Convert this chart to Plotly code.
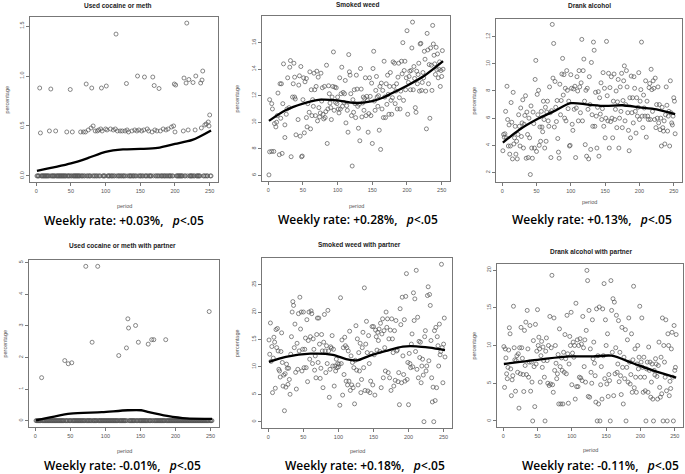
import plotly.graph_objects as go

# ---------------- DATA ----------------
# Panel 1: Used cocaine or meth (non-zero observations; every other period is 0)
coc_period = [6, 19, 28, 44, 52, 64, 68, 71, 75, 79, 82, 85, 88, 90, 93, 95, 100, 102, 107, 111,
              114, 117, 121, 124, 128, 131, 133, 138, 142, 145, 148, 152, 155, 160, 162, 167, 171,
              174, 179, 183, 187, 190, 195, 198, 200, 212, 219, 229, 238, 243, 245, 248, 249, 250,
              5, 21, 49, 72, 80, 94, 101, 130, 146, 156, 168, 170, 177, 199, 201, 213, 216, 220,
              226, 230, 237, 239, 240, 115, 217]
coc_pct = [0.43, 0.45, 0.45, 0.44, 0.44, 0.44, 0.44, 0.44, 0.46, 0.48, 0.50, 0.45, 0.45, 0.46, 0.47,
           0.45, 0.47, 0.46, 0.47, 0.46, 0.47, 0.45, 0.45, 0.45, 0.45, 0.46, 0.44, 0.45, 0.46, 0.45,
           0.46, 0.45, 0.46, 0.47, 0.45, 0.44, 0.46, 0.45, 0.45, 0.47, 0.46, 0.47, 0.49, 0.50, 0.44,
           0.45, 0.46, 0.46, 0.48, 0.51, 0.52, 0.54, 0.50, 0.61,
           0.88, 0.87, 0.865, 0.92, 0.88, 0.88, 0.90, 0.925, 1.0, 0.99, 0.99, 0.905, 0.875, 0.92,
           0.91, 0.98, 0.93, 0.965, 0.935, 1.0, 0.93, 0.96, 1.05, 1.42, 1.53]
coc_curve_period = [1, 25, 50, 75, 100, 125, 150, 175, 200, 225, 252]
coc_curve_pct = [0.05, 0.085, 0.125, 0.18, 0.24, 0.265, 0.27, 0.28, 0.32, 0.36, 0.455]

# Panel 2: Smoked weed
weed_period_early = [1, 2, 5, 8, 2, 5, 6, 9, 11, 12, 13, 14, 17, 16, 18, 19, 20, 21, 22, 24,
                     24, 26, 27, 28, 30, 31, 32, 33, 35, 36, 37, 38, 38, 39, 40, 43, 44, 45, 46, 47,
                     48, 49, 50, 51, 52, 53, 55, 55, 56, 57, 59, 60, 61, 62, 63, 64, 65, 66, 67, 68,
                     69, 70, 71, 72, 73, 74, 75, 76, 77, 78, 79, 80, 81, 82, 83, 84, 85]
weed_pct_early = [6.03, 7.77, 7.8, 7.8, 11.7, 11.4, 11.0, 9.9, 9.65, 10.0, 10.5, 12.2, 12.9, 7.55,
                  10.3, 12.9, 7.65, 11.4, 14.4, 9.8, 8.85, 10.6, 11.0, 13.35, 11.1, 14.15, 14.65,
                  7.4, 11.9, 12.9, 14.45, 11.9, 13.4, 11.75, 9.05, 10.2, 12.8, 13.5, 8.95, 14.2,
                  7.4, 7.45, 11.7, 13.35, 9.2, 13.05, 13.3, 10.35, 9.65, 11.4, 10.75, 13.8, 9.5,
                  12.45, 10.5, 11.7, 11.2, 13.7, 12.45, 10.5, 12.7, 13.85, 10.1, 13.4, 11.1, 10.4,
                  10.7, 13.7, 11.6, 12.6, 10.6, 10.25, 12.7, 10.35, 10.8, 14.3, 8.4]
weed_late_start = 86
weed_pct_late = [11.0, 12.75, 12.15, 11.45, 11.1, 10.2, 11.9, 12.7, 15.3, 10.9, 12.65, 11.5, 12.6,
                 11.4, 11.9, 11.0, 10.7,
                 13.35, 11.0, 12.15, 14.15, 11.2, 12.25, 11.5, 12.15, 13.15, 9.95, 11.25, 10.9,
                 9.25, 15.1, 13.8, 13.55, 12.15, 10.5, 6.7, 11.7, 10.75, 12.45, 11.4, 10.35, 13.55,
                 12.5, 11.2, 9.55, 11.35, 8.6, 14.05, 12.5, 10.4, 11.45, 11.9, 10.9, 11.8, 13.35,
                 10.5, 11.95, 11.65, 9.25, 10.65, 13.35, 11.95, 10.5, 12.95, 8.4, 14.05, 15.35,
                 11.6, 10.9, 12.4, 13.45, 11.9, 11.2, 12.0,
                 9.4, 12.7, 7.95, 12.95, 11.0, 12.4, 10.35, 14.6, 11.9, 10.35,
                 12.9, 11.35, 13.55, 12.1, 10.6, 12.7, 13.75, 11.65, 10.6, 11.85,
                 14.55, 12.7, 14.45, 11.4, 12.35, 12.9, 11.0, 13.4, 14.45, 11.85,
                 11.0, 12.35, 14.6, 13.65, 16.0, 11.65, 13.9, 14.6, 12.45, 13.35,
                 16.9, 10.6, 13.0, 13.45, 13.85, 12.45, 13.9, 15.6, 17.55, 12.45,
                 14.2, 13.3, 11.1, 10.75, 13.85, 12.9, 13.6, 14.45, 12.35, 15.9,
                 15.95, 12.4, 13.0, 13.75, 13.35, 15.35, 14.75, 12.35, 9.5, 16.7,
                 15.45, 12.9, 14.35, 10.3, 15.6, 14.3, 12.4, 17.3, 15.9, 15.05,
                 14.4, 13.6, 15.65, 13.95, 15.15, 13.35, 14.0, 14.55, 12.7, 13.9,
                 13.45, 15.4, 14.0]
weed_curve_period = [1, 25, 50, 75, 100, 125, 150, 165, 175, 200, 225, 252]
weed_curve_pct = [10.1, 10.9, 11.4, 11.7, 11.65, 11.45, 11.6, 11.85, 12.1, 12.75, 13.5, 14.6]

# Panel 3: Drank alcohol (periods 1..252)
alc_pct = [3.6, 4.8, 4.6, 4.85, 6.5, 4.55, 8.35, 5.9, 3.95, 5.5, 3.35, 3.95,
           7.15, 5.7, 3.0, 7.9, 4.1, 4.55, 5.4, 3.35, 4.3, 3.0, 4.8, 6.25,
           5.4, 3.95, 6.75, 4.65, 5.65, 7.35, 3.8, 5.55, 6.2, 7.65, 3.05, 6.45,
           4.8, 3.1, 6.0, 4.55, 1.85, 6.9, 3.8, 3.05, 6.45, 5.6, 3.8, 8.85,
           10.25, 3.55, 7.75, 6.25, 8.05, 4.0, 5.35, 4.3, 6.5, 5.35, 5.0, 7.25,
           5.9, 3.8, 6.8, 4.3, 6.45, 7.25, 5.8, 5.4, 8.3, 6.4, 3.1, 6.55,
           12.9, 8.95, 11.5, 5.35, 8.7, 6.8, 5.75, 7.3, 4.5, 3.5, 3.05, 8.5,
           6.25, 7.3, 9.25, 10.4, 7.7, 9.2, 6.0, 8.2, 5.8, 9.5, 8.05, 6.7,
           7.25, 3.95, 4.0, 9.2, 8.2, 5.55, 5.1, 8.15, 6.65, 8.35, 3.1, 6.75,
           9.05, 8.0, 5.8, 9.5, 8.3, 6.4, 8.6, 11.8, 5.8, 9.5, 10.35, 7.25,
           4.05, 8.05, 3.2, 8.2, 6.65, 3.0, 9.05, 7.0, 3.7, 10.1, 6.25, 5.4,
           11.6, 11.0, 5.4, 7.9, 6.15, 3.8, 6.8, 7.95, 3.2, 7.5, 6.3, 8.6,
           5.9, 6.7, 9.35, 5.4, 8.2, 4.55, 6.0, 11.65, 7.65, 5.8, 9.3, 3.8,
           8.25, 5.75, 9.05, 6.0, 4.55, 7.25, 9.25, 5.9, 6.65, 8.0, 5.3, 7.2,
           8.85, 3.8, 6.0, 8.3, 6.5, 9.3, 5.3, 7.3, 8.75, 9.85, 5.8, 7.0,
           9.5, 8.3, 6.4, 5.1, 3.6, 7.5, 4.55, 9.1, 6.4, 7.5, 5.65, 9.05,
           8.2, 6.5, 4.9, 7.5, 6.15, 6.8, 9.35, 5.9, 7.25, 8.1, 11.6, 6.15,
           5.3, 7.7, 6.75, 6.15, 8.75, 4.6, 7.25, 6.15, 5.9, 8.25, 8.55, 5.9,
           9.6, 8.1, 6.5, 8.75, 8.2, 5.9, 8.95, 5.3, 7.0, 6.0, 8.3, 5.65,
           7.0, 5.15, 6.0, 3.95, 6.8, 5.3, 5.05, 5.8, 4.1, 6.25, 8.3, 6.95,
           5.05, 6.15, 6.5, 3.95, 8.75, 6.4, 5.65, 5.5, 6.15, 7.5, 7.25, 4.85]
alc_curve_period = [1, 25, 50, 75, 100, 125, 150, 175, 200, 225, 252]
alc_curve_pct = [4.2, 5.15, 5.9, 6.5, 7.1, 7.0, 6.9, 6.95, 6.8, 6.65, 6.3]

# Panel 4: Used cocaine or meth with partner (non-zero observations; others are 0)
cocp_period = [9, 42, 47, 52, 72, 89, 81, 119, 130, 132, 133, 143, 147, 161, 166, 169, 186, 248]
cocp_pct = [1.36, 1.9, 1.8, 1.83, 4.88, 4.88, 2.48, 2.06, 2.3, 3.22, 2.93, 3.01, 2.48, 2.42,
            2.56, 2.56, 2.56, 3.45]
cocp_curve_period = [1, 25, 50, 95, 132, 151, 162, 188, 216, 252]
cocp_curve_pct = [0.01, 0.12, 0.22, 0.27, 0.33, 0.33, 0.27, 0.15, 0.07, 0.06]

# Panel 5: Smoked weed with partner (periods 1..252)
weedp_pct = [14.9, 12.3, 18.0, 11.0, 13.7, 5.3, 11.6, 15.4, 14.5, 6.1, 16.8, 13.5,
             17.0, 12.9, 9.55, 9.25, 8.15, 12.8, 16.2, 10.8, 6.5, 8.5, 2.0, 8.75,
             6.3, 10.5, 9.75, 6.8, 9.75, 7.7, 5.0, 12.3, 15.5, 20.0, 21.9, 21.2,
             13.5, 17.8, 9.0, 5.95, 14.3, 9.55, 19.7, 12.9, 22.7, 16.9, 20.0, 9.25,
             13.2, 20.0, 9.85, 13.2, 15.25, 9.85, 18.6, 7.3, 14.8, 20.0, 11.4, 15.5,
             20.2, 19.7, 10.6, 15.1, 13.2, 9.4, 12.0, 8.0, 15.9, 18.9, 10.8, 18.9,
             14.15, 7.9, 9.75, 15.9, 12.9, 6.2, 14.5, 19.55, 12.9, 8.95, 13.85, 10.6,
             20.3, 12.9, 4.45, 9.55, 13.65, 13.4, 15.7, 10.15, 13.2, 6.5, 10.15, 9.25,
             11.4, 9.85, 10.6, 10.0, 10.5, 3.0, 22.6, 10.6, 14.9, 4.85, 13.5, 8.6,
             15.4, 13.85, 7.4, 13.5, 6.7, 12.9, 7.4, 16.5, 5.7, 12.0, 6.7, 10.8,
             6.2, 9.85, 3.25, 11.2, 17.5, 9.4, 15.1, 6.7, 12.6, 9.25, 14.3, 5.3,
             7.7, 13.5, 16.3, 9.85, 24.4, 5.7, 14.15, 18.3, 12.6, 5.6, 15.7, 10.6,
             5.3, 7.4, 12.45, 17.35, 6.7, 17.35, 12.2, 4.85, 16.7, 15.5, 13.05, 16.3,
             14.8, 16.9, 12.8, 17.95, 6.2, 16.0, 18.75, 8.0, 16.6, 13.5, 9.25, 20.0,
             17.2, 18.75, 8.95, 15.1, 8.0, 16.7, 5.7, 18.75, 15.1, 12.6, 6.5, 16.6,
             7.55, 18.45, 12.9, 13.05, 7.3, 8.95, 3.1, 20.6, 17.7, 7.1, 22.7, 12.0,
             8.6, 18.6, 7.4, 22.85, 27.0, 7.7, 10.8, 3.1, 12.45, 10.6, 9.85, 14.15,
             16.0, 10.0, 23.5, 18.45, 22.4, 12.8, 27.6, 9.55, 19.05, 8.0, 14.65, 11.7,
             14.5, 7.1, 10.15, 11.4, 8.5, 0.0, 15.5, 16.6, 9.25, 10.15, 23.0, 24.6,
             11.1, 23.2, 21.2, 14.8, 8.0, 3.6, 6.3, 0.0, 16.6, 3.85, 17.2, 6.2,
             15.5, 13.85, 10.15, 17.8, 12.2, 12.8, 28.7, 13.5, 7.1, 14.15, 18.9, 11.8]
weedp_curve_period = [1, 25, 60, 92, 111, 127, 144, 168, 192, 211, 230, 252]
weedp_curve_pct = [10.9, 11.8, 12.4, 12.2, 11.4, 11.2, 12.0, 12.9, 13.7, 13.75, 13.5, 13.05]

# Panel 6: Drank alcohol with partner (periods 1..252)
alcp_pct = [9.85, 4.45, 9.55, 8.35, 6.25, 5.6, 7.1, 9.4, 12.35, 11.55, 6.9, 3.35,
            5.45, 6.0, 15.2, 9.7, 8.1, 3.95, 8.0, 8.65, 6.45, 8.9, 1.7, 9.7,
            6.25, 12.4, 9.7, 8.3, 6.15, 3.9, 12.0, 7.35, 13.1, 6.15, 14.65, 9.55,
            5.8, 7.8, 12.65, 3.95, 7.8, 5.15, 0.0, 10.65, 7.2, 1.9, 12.8, 7.55,
            9.25, 14.75, 10.0, 11.1, 9.55, 5.15, 8.65, 10.55, 7.1, 9.8, 8.0, 5.8,
            0.0, 9.25, 11.0, 8.0, 5.0, 10.0, 4.7, 13.85, 4.9, 9.7, 19.3, 4.8,
            3.8, 13.65, 6.7, 10.0, 7.65, 5.6, 6.25, 8.8, 2.25, 12.2, 7.2, 2.25,
            8.35, 6.7, 2.25, 9.1, 6.45, 11.45, 8.25, 6.25, 14.0, 8.9, 2.35, 7.55,
            11.2, 10.0, 14.4, 4.8, 9.0, 10.45, 8.45, 10.0, 2.9, 15.6, 4.55, 10.75,
            4.55, 10.0, 5.8, 10.9, 5.7, 10.2, 5.35, 13.85, 9.7, 7.2, 10.75, 5.15,
            12.0, 19.95, 18.6, 3.25, 14.65, 3.15, 9.55, 6.45, 5.0, 13.4, 8.25, 10.45,
            7.65, 6.0, 2.5, 14.85, 0.0, 8.65, 2.25, 15.1, 0.0, 4.8, 7.2, 2.9,
            14.85, 8.65, 18.2, 5.6, 13.4, 10.0, 4.9, 11.55, 3.25, 6.15, 5.35, 0.0,
            18.6, 14.65, 9.1, 16.2, 3.35, 15.75, 6.25, 9.7, 14.0, 6.45, 7.55, 13.3,
            5.2, 9.1, 6.0, 3.5, 12.4, 7.1, 2.25, 8.45, 5.6, 12.1, 0.0, 7.1,
            10.75, 5.15, 13.65, 7.8, 4.9, 6.15, 11.55, 3.8, 8.1, 17.85, 4.4, 9.55,
            5.8, 3.8, 7.55, 10.0, 6.9, 8.45, 15.2, 5.8, 7.8, 13.65, 7.1, 3.8,
            8.45, 5.8, 4.0, 0.0, 6.9, 7.8, 3.8, 9.8, 6.7, 7.8, 3.15, 5.15,
            7.55, 2.9, 0.0, 6.7, 6.1, 8.25, 7.55, 5.9, 2.9, 7.35, 10.45, 4.45,
            3.15, 8.45, 3.6, 13.65, 0.0, 10.0, 7.8, 5.8, 13.4, 4.0, 0.0, 11.55,
            10.0, 3.35, 5.25, 4.3, 9.55, 11.75, 5.8, 0.0, 12.65, 6.7, 7.1, 11.45]
alcp_curve_period = [1, 58, 97, 131, 158, 189, 218, 252]
alcp_curve_pct = [7.55, 8.2, 8.55, 8.55, 8.65, 7.65, 6.7, 5.75]

titles = ["Used cocaine or meth", "Smoked weed", "Drank alcohol",
          "Used cocaine or meth with partner", "Smoked weed with partner",
          "Drank alcohol with partner"]
rates = ["+0.03%", "+0.28%", "+0.13%", "-0.01%", "+0.18%", "-0.11%"]
x_ticks = [0, 50, 100, 150, 200, 250]
y_ticks = [[0, 0.5, 1.0, 1.5], [6, 8, 10, 12, 14, 16], [2, 4, 6, 8, 10, 12],
           [0, 1, 2, 3, 4, 5], [0, 5, 10, 15, 20, 25], [0, 5, 10, 15, 20]]
y_ticktext = [["0.0", "0.5", "1.0", "1.5"], None, None, None, None, None]

# ---------------- BUILD SERIES ----------------
all_periods = list(range(1, 253))
coc_zero = [p for p in all_periods if p not in coc_period]
cocp_zero = [p for p in all_periods if p not in cocp_period]
weed_period = weed_period_early + list(range(weed_late_start, weed_late_start + len(weed_pct_late)))
weed_pct = weed_pct_early + weed_pct_late

scatter_data = [
    (coc_period + coc_zero, coc_pct + [0.0] * len(coc_zero)),
    (weed_period, weed_pct),
    (list(range(1, len(alc_pct) + 1)), alc_pct),
    (cocp_period + cocp_zero, cocp_pct + [0.0] * len(cocp_zero)),
    (list(range(1, len(weedp_pct) + 1)), weedp_pct),
    (list(range(1, len(alcp_pct) + 1)), alcp_pct),
]
curve_data = [
    (coc_curve_period, coc_curve_pct),
    (weed_curve_period, weed_curve_pct),
    (alc_curve_period, alc_curve_pct),
    (cocp_curve_period, cocp_curve_pct),
    (weedp_curve_period, weedp_curve_pct),
    (alcp_curve_period, alcp_curve_pct),
]

# ---------------- LAYOUT (pixel geometry) ----------------
W, H = 685, 474
boxes = [(30, 17, 218, 182), (262, 16, 450, 181), (496, 19, 682, 182),
         (29, 260, 219, 427), (262, 258, 452, 428), (497, 264, 683, 427)]
y_ranges = [[-0.061, 1.591], [5.57, 18.01], [1.3, 13.3],
            [-0.2, 5.08], [-1.15, 29.85], [-0.8, 20.8]]
x_range = [-9, 262]
title_pos = [(118, 6), (357, 4), (589, 6), (122, 246), (359, 245), (591, 252)]
rate_pos = [(124, 220), (358, 219), (592, 219), (122, 465), (365, 465), (600, 465)]
period_y = [206, 206, 202, 451, 451, 450]
perc_x = [7, 237, 473, 4, 237, 473]

fig = go.Figure()
layout = dict(width=W, height=H, margin=dict(l=0, r=0, t=0, b=0),
              paper_bgcolor="white", plot_bgcolor="white", showlegend=False)
annotations = []
GRAY = "#777777"
TICKFONT = dict(family="Liberation Sans, Arial", size=5.5, color="#555555")


def px_x(x):
    return x / W


def px_y(y):
    return 1 - y / H


for i in range(6):
    n = i + 1
    xa = "x" if n == 1 else f"x{n}"
    ya = "y" if n == 1 else f"y{n}"
    sx, sy = scatter_data[i]
    cx, cy = curve_data[i]
    fig.add_trace(go.Scatter(x=sx, y=sy, mode="markers", xaxis=xa, yaxis=ya,
                             marker=dict(symbol="circle-open", size=4, color="#555555",
                                         line=dict(width=0.7)),
                             hoverinfo="skip"))
    fig.add_trace(go.Scatter(x=cx, y=cy, mode="lines", xaxis=xa, yaxis=ya,
                             line=dict(color="black", width=2.3, shape="spline", smoothing=0.8),
                             hoverinfo="skip"))
    x0, y0, x1, y1 = boxes[i]
    xkey = "xaxis" if n == 1 else f"xaxis{n}"
    ykey = "yaxis" if n == 1 else f"yaxis{n}"
    layout[xkey] = dict(domain=[px_x(x0), px_x(x1)], range=list(x_range), anchor=ya,
                        showgrid=False, zeroline=False, showline=True, mirror=True,
                        linecolor=GRAY, linewidth=1, ticks="outside", ticklen=3,
                        tickcolor=GRAY, tickwidth=0.8, tickvals=x_ticks,
                        tickfont=TICKFONT)
    yax = dict(domain=[px_y(y1), px_y(y0)], range=list(y_ranges[i]), anchor=xa,
               showgrid=False, zeroline=False, showline=True, mirror=True,
               linecolor=GRAY, linewidth=1, ticks="outside", ticklen=3,
               tickcolor=GRAY, tickwidth=0.8, tickvals=y_ticks[i], tickangle=-90,
               tickfont=TICKFONT)
    if y_ticktext[i] is not None:
        yax["ticktext"] = y_ticktext[i]
    layout[ykey] = yax

    tx, ty = title_pos[i]
    annotations.append(dict(text=titles[i], x=px_x(tx), y=px_y(ty), xref="paper", yref="paper",
                            showarrow=False, xanchor="center", yanchor="middle",
                            font=dict(family="Liberation Sans, Arial", size=6.5,
                                      color="#222222", weight="bold")))
    rx, ry = rate_pos[i]
    annotations.append(dict(text=f"Weekly rate: {rates[i]},\u00a0\u00a0\u00a0<i>p</i>&lt;.05",
                            x=px_x(rx), y=px_y(ry), xref="paper", yref="paper",
                            showarrow=False, xanchor="center", yanchor="middle",
                            font=dict(family="Open Sans", size=12, color="black", weight=600)))
    annotations.append(dict(text="period", x=px_x((x0 + x1) / 2), y=px_y(period_y[i]),
                            xref="paper", yref="paper", showarrow=False,
                            xanchor="center", yanchor="middle",
                            font=dict(family="Liberation Sans, Arial", size=5.5, color="#555555")))
    annotations.append(dict(text="percentage", x=px_x(perc_x[i]), y=px_y((y0 + y1) / 2),
                            xref="paper", yref="paper", showarrow=False, textangle=-90,
                            xanchor="center", yanchor="middle",
                            font=dict(family="Liberation Sans, Arial", size=5.5, color="#555555")))

layout["annotations"] = annotations
fig.update_layout(**layout)
fig.write_html("out.html", config={"displayModeBar": False},
               post_script="document.body.style.margin='0';document.body.style.overflow='hidden';")
